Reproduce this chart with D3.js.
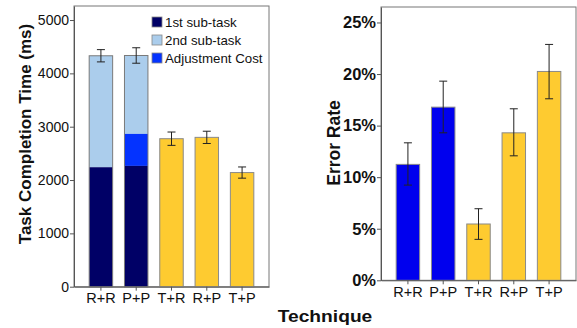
<!DOCTYPE html>
<html>
<head>
<meta charset="utf-8">
<script src="https://cdn.jsdelivr.net/npm/d3@7"></script>
<style>
  body { margin: 0; background: #fff; }
  svg { display: block; font-family: "Liberation Sans", Arial, sans-serif; }
</style>
</head>
<body>
<div id="chart"></div>
<script>
// data
var techniques = ["R+R", "P+P", "T+R", "R+P", "T+P"];
var firstSub   = [2240, 2265, null, null, null];
var adjustCost = [0, 600, null, null, null];
var totalTime  = [4330, 4335, 2775, 2800, 2140];
var timeErr    = [115, 145, 125, 115, 105];
var errorRate  = [0.1124, 0.1679, 0.0546, 0.1430, 0.2025];
var rateErrLo  = [0.0923, 0.1430, 0.0397, 0.1207, 0.1760];
var rateErrHi  = [0.1333, 0.1931, 0.0694, 0.1663, 0.2287];
var timeTicks  = [0, 1000, 2000, 3000, 4000, 5000];
var rateTicks  = [0, 0.05, 0.10, 0.15, 0.20, 0.25];
var legendLabels = ["1st sub-task", "2nd sub-task", "Adjustment Cost"];

var navy = "#000066", light = "#abcdec", adj = "#0433ff", blue = "#0000ee", yellow = "#fecb30";

var W = 577, H = 328;
var svg = d3.select("#chart").append("svg").attr("width", W).attr("height", H);

// ---------- left panel: task completion time ----------
var x1 = d3.scaleBand().domain(techniques).range([74, 269]).paddingInner(0.335).paddingOuter(0.43);
var y1 = d3.scaleLinear().domain([0, 5263]).range([286.7, 6]);

svg.append("rect")
  .attr("x", 74).attr("y", 6).attr("width", 269 - 74).attr("height", 286.7 - 6)
  .style("fill", "none").style("stroke", "#777").style("stroke-width", 1);

var g1 = svg.append("g");
techniques.forEach(function(t, i) {
  var bx = x1(t), bw = x1.bandwidth();
  if (firstSub[i] != null) {
    // stacked: 1st sub-task, adjustment, 2nd sub-task
    var top1 = firstSub[i], top2 = firstSub[i] + adjustCost[i];
    g1.append("rect").attr("x", bx).attr("width", bw)
      .attr("y", y1(totalTime[i])).attr("height", y1(top2) - y1(totalTime[i]))
      .style("fill", light);
    if (adjustCost[i] > 0)
      g1.append("rect").attr("x", bx).attr("width", bw)
        .attr("y", y1(top2)).attr("height", y1(top1) - y1(top2))
        .style("fill", adj);
    g1.append("rect").attr("x", bx).attr("width", bw)
      .attr("y", y1(top1)).attr("height", y1(0) - y1(top1))
      .style("fill", navy);
    g1.append("rect").attr("x", bx).attr("width", bw)
      .attr("y", y1(totalTime[i])).attr("height", y1(0) - y1(totalTime[i]))
      .style("fill", "none").style("stroke", "#7a7a7a").style("stroke-width", 1);
  } else {
    g1.append("rect").attr("x", bx).attr("width", bw)
      .attr("y", y1(totalTime[i])).attr("height", y1(0) - y1(totalTime[i]))
      .style("fill", yellow).style("stroke", "#8a8a8a").style("stroke-width", 1);
  }
  var cx = bx + bw / 2;
  var lo = y1(totalTime[i] - timeErr[i]), hi = y1(totalTime[i] + timeErr[i]);
  g1.append("line").attr("x1", cx).attr("x2", cx).attr("y1", lo).attr("y2", hi)
    .style("stroke", "#222").style("stroke-width", 1);
  [lo, hi].forEach(function(yy) {
    g1.append("line").attr("x1", cx - 4).attr("x2", cx + 4).attr("y1", yy).attr("y2", yy)
      .style("stroke", "#222").style("stroke-width", 1);
  });
});

var ax1 = svg.append("g").attr("transform", "translate(74,0)")
  .call(d3.axisLeft(y1).tickValues(timeTicks).tickFormat(d3.format("d")).tickSize(4).tickPadding(1).tickSizeOuter(0));
var bx1 = svg.append("g").attr("transform", "translate(0,286.7)")
  .call(d3.axisBottom(x1).tickSize(4).tickPadding(2).tickSizeOuter(0));

// legend
var legColors = [navy, light, adj];
legendLabels.forEach(function(l, i) {
  svg.append("rect").attr("x", 152).attr("y", 17 + i * 18).attr("width", 10).attr("height", 10)
    .style("fill", legColors[i]).style("stroke", "#888").style("stroke-width", 0.8);
  svg.append("text").attr("x", 165).attr("y", 27 + i * 18)
    .style("font-size", "13.3px").style("fill", "#111").text(l);
});

svg.append("text")
  .attr("transform", "translate(31,134) rotate(-90)")
  .attr("text-anchor", "middle")
  .style("font-size", "17px").style("font-weight", "bold").style("fill", "#111")
  .text("Task Completion Time (ms)");

// ---------- right panel: error rate ----------
var x2 = d3.scaleBand().domain(techniques).range([381, 576]).paddingInner(0.335).paddingOuter(0.43);
var y2 = d3.scaleLinear().domain([0, 0.265]).range([280.3, 7]);

svg.append("rect")
  .attr("x", 381).attr("y", 7).attr("width", 576 - 381).attr("height", 280.3 - 7)
  .style("fill", "none").style("stroke", "#777").style("stroke-width", 1);

var g2 = svg.append("g");
techniques.forEach(function(t, i) {
  var bx = x2(t), bw = x2.bandwidth();
  g2.append("rect").attr("x", bx).attr("width", bw)
    .attr("y", y2(errorRate[i])).attr("height", y2(0) - y2(errorRate[i]))
    .style("fill", i < 2 ? blue : yellow).style("stroke", "#8a8a8a").style("stroke-width", 1);
  var cx = bx + bw / 2;
  var lo = y2(rateErrLo[i]), hi = y2(rateErrHi[i]);
  g2.append("line").attr("x1", cx).attr("x2", cx).attr("y1", lo).attr("y2", hi)
    .style("stroke", "#222").style("stroke-width", 1);
  [lo, hi].forEach(function(yy) {
    g2.append("line").attr("x1", cx - 4).attr("x2", cx + 4).attr("y1", yy).attr("y2", yy)
      .style("stroke", "#222").style("stroke-width", 1);
  });
});

var ax2 = svg.append("g").attr("transform", "translate(381,0)")
  .call(d3.axisLeft(y2).tickValues(rateTicks).tickFormat(d3.format(".0%")).tickSize(4).tickPadding(1).tickSizeOuter(0));
var bx2 = svg.append("g").attr("transform", "translate(0,280.3)")
  .call(d3.axisBottom(x2).tickSize(4).tickPadding(2).tickSizeOuter(0));

[ax1, ax2, bx1, bx2].forEach(function(a) {
  a.selectAll("text").style("font-size", "14.5px").style("fill", "#111").style("font-family", "Liberation Sans, Arial, sans-serif");
  a.selectAll("line").style("stroke", "#555");
  a.select(".domain").style("stroke", "#555");
});
ax1.selectAll("text").style("font-size", "14px");
ax2.selectAll("text").style("font-size", "16.5px").style("font-weight", "bold");

svg.append("text")
  .attr("transform", "translate(340,143) rotate(-90)")
  .attr("text-anchor", "middle")
  .style("font-size", "17.5px").style("font-weight", "bold").style("fill", "#111")
  .text("Error Rate");

svg.append("text")
  .attr("transform", "translate(325,322) scale(1.13,1)")
  .attr("text-anchor", "middle")
  .style("font-size", "17px").style("font-weight", "bold").style("fill", "#111")
  .text("Technique");
</script>
</body>
</html>
